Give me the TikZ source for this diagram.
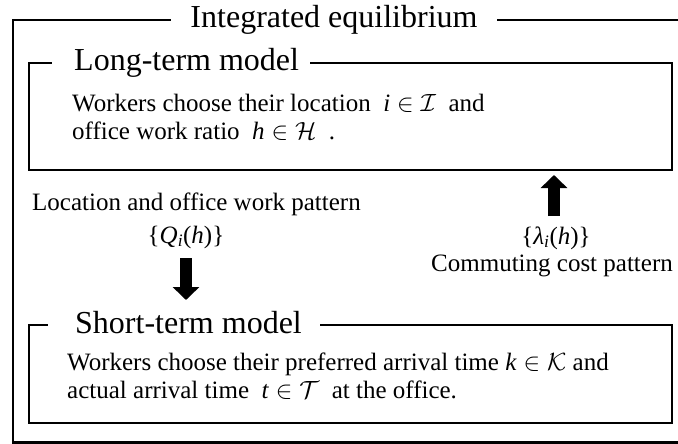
\documentclass[tikz,border=0pt]{standalone}
\usepackage{fontspec}
\setmainfont{Liberation Serif}
\usetikzlibrary{arrows.meta}
\begin{document}
\begin{tikzpicture}[x=1pt,y=-1pt,
  boxnode/.style={draw=black,line width=2.4pt,anchor=north west,inner sep=0pt,outer sep=0pt},
  headtext/.style={fill=white,inner ysep=1pt,font=\fontsize{32}{38}\selectfont},
  bodytext/.style={inner sep=0pt,anchor=north west,align=left,font=\fontsize{25}{28}\selectfont},
  linetext/.style={inner sep=0pt,anchor=base west,font=\fontsize{25}{30}\selectfont},
  midtext/.style={inner sep=0pt,anchor=base,font=\fontsize{25}{30}\selectfont},
  bigarrow/.style={line width=12.5pt,-{Triangle[width=26pt,length=13pt]}}]
\clip (0,0) rectangle (678,444);
\fill[white] (0,0) rectangle (678,444);
% frames
\node[boxnode,minimum width=707pt,minimum height=422.5pt] (outer) at (13,20) {};
\node[boxnode,minimum width=643pt,minimum height=107pt] (ltbox) at (29,63) {};
\node[boxnode,minimum width=643pt,minimum height=98pt] (stbox) at (29,325) {};
% headings
\node[headtext,inner xsep=19pt,anchor=base] (title) at (334,28) {Integrated equilibrium};
\node[headtext,inner xsep=11pt,anchor=base west] (lthead) at (52,71) {\hspace*{11pt}Long-term model};
\node[headtext,inner xsep=18pt,anchor=base west] (sthead) at (48,333) {\hspace*{9pt}Short-term model};
% long-term body
\node[bodytext] (ltbody) at (72,94) {Workers choose their location\ \ \textit{i}$\;\in\mathcal{I}$\ \ and\\
office work ratio\ \ \textit{h}$\;\in\mathcal{H}$\ \ .};
% short-term body
\node[bodytext] (stbody) at (67,353) {Workers choose their preferred arrival time \textit{k}$\;\in\mathcal{K}$ and\\
actual arrival time\ \ \textit{t}$\;\in\mathcal{T}$\ \ at the office.};
% middle texts
\node[linetext] (loc) at (32,210) {Location and office work pattern};
\node[midtext] (Q) at (186,243) {\{\textit{Q}\textsubscript{\textit{i}}(\textit{h})\}};
\node[midtext] (lam) at (556,244) {\{\textit{λ}\textsubscript{\textit{i}}(\textit{h})\}};
\node[midtext] (comm) at (552,271) {Commuting cost pattern};
% arrows
\coordinate (dnA) at (186,258);
\coordinate (dnB) at (186,300);
\coordinate (upA) at (554,216);
\coordinate (upB) at (554,175);
\draw[bigarrow] (dnA) -- (dnB);
\draw[bigarrow] (upA) -- (upB);
\end{tikzpicture}
\end{document}
